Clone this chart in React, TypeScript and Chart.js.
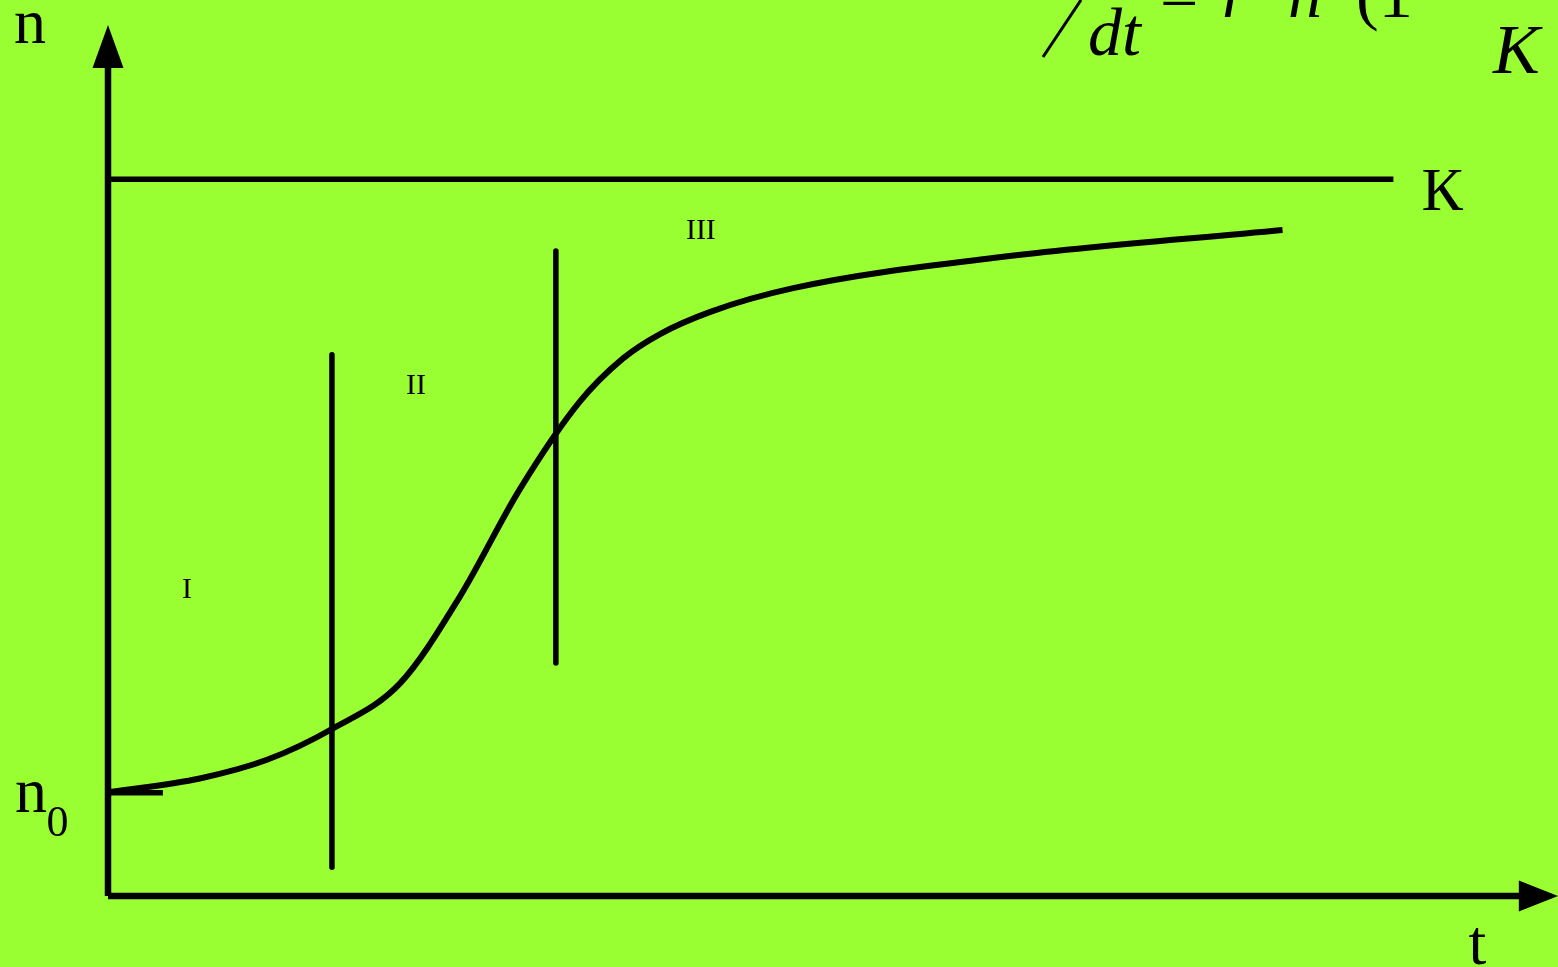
import { useEffect, useRef } from 'react';
import { Chart, registerables } from 'chart.js';

Chart.register(...registerables);

// ---- data (t = time, n = population size) ----
const curveT = [0.02, 0.82, 1.42, 2.0, 2.61, 3.14, 3.68, 4.21, 4.6, 4.93, 5.38, 6.12, 7.96, 10.49];
const curveN = [1.45, 1.64, 1.9, 2.33, 2.97, 4.17, 5.68, 6.89, 7.5, 7.84, 8.15, 8.48, 8.91, 9.29];

const K = 10;
const kLineEnd = 11.48;
const n0 = 1.44;
const n0TickEnd = 0.49;

const phaseT = [2, 4];
const phaseLow = [0.4, 3.25];
const phaseHigh = [7.55, 9.0];

const phaseLabels = ['I', 'II', 'III'];
const phaseLabelT = [0.705, 2.75, 5.295];
const phaseLabelN = [4.16, 7.0, 9.17];

const xMax = 12.95;
const yMax = 12.5;
const xArrowBase = 12.6;
const yArrowTip = 12.15;
const yArrowBase = 11.55;

const BG = '#99FF33';
const INK = '#000000';

const line = (pts: { x: number; y: number }[], width: number, cap: CanvasLineCap = 'butt') => ({
  data: pts,
  borderColor: INK,
  borderWidth: width,
  borderCapStyle: cap,
  pointRadius: 0,
  fill: false,
  clip: false as any,
  tension: 0,
});

const decor = {
  id: 'decor',
  beforeDraw(chart: any) {
    const ctx = chart.ctx;
    ctx.save();
    ctx.fillStyle = BG;
    ctx.fillRect(0, 0, chart.width, chart.height);
    ctx.restore();
  },
  afterDatasetsDraw(chart: any) {
    const ctx: CanvasRenderingContext2D = chart.ctx;
    const xs = chart.scales.x;
    const ys = chart.scales.y;
    const px = (v: number) => xs.getPixelForValue(v);
    const py = (v: number) => ys.getPixelForValue(v);
    ctx.save();
    ctx.fillStyle = INK;
    ctx.strokeStyle = INK;

    // y-axis arrow head
    const ax = px(0);
    ctx.beginPath();
    ctx.moveTo(ax, py(yArrowTip));
    ctx.lineTo(ax - 15.5, py(yArrowBase));
    ctx.lineTo(ax + 15.5, py(yArrowBase));
    ctx.closePath();
    ctx.fill();

    // x-axis arrow head
    const ay = py(0);
    ctx.beginPath();
    ctx.moveTo(px(xMax), ay);
    ctx.lineTo(px(xArrowBase), ay - 15.5);
    ctx.lineTo(px(xArrowBase), ay + 15.5);
    ctx.closePath();
    ctx.fill();

    // phase labels
    ctx.textAlign = 'center';
    ctx.textBaseline = 'alphabetic';
    ctx.font = '30px "Liberation Serif"';
    phaseLabels.forEach((s, i) => ctx.fillText(s, px(phaseLabelT[i]), py(phaseLabelN[i])));

    // axis labels
    ctx.font = '64px "Liberation Serif"';
    ctx.fillText('n', px(-0.696), py(11.9));
    ctx.fillText('t', px(12.23), py(-0.95));
    ctx.textAlign = 'left';
    ctx.fillText('n', px(-0.83), py(1.17));
    ctx.font = '44px "Liberation Serif"';
    ctx.fillText('0', px(-0.55), py(0.84));
    ctx.font = '62px "Liberation Serif"';
    ctx.fillText('К', px(11.73), py(9.57));

    // formula fragment (top right, cut off by the page edge)
    ctx.lineWidth = 3;
    ctx.beginPath();
    ctx.moveTo(1043, 57);
    ctx.lineTo(1081, 0);
    ctx.stroke();
    ctx.font = 'italic 68px "Liberation Serif"';
    ctx.fillText('dt', 1088, 55);
    ctx.font = '68px "Liberation Serif"';
    ctx.fillText('=', 1160, 19);
    ctx.font = 'italic 68px "Liberation Serif"';
    ctx.fillText('r', 1222, 17);
    ctx.fillText('n', 1288, 17);
    ctx.font = '68px "Liberation Serif"';
    ctx.fillText('·', 1256, 17);
    ctx.fillText('·', 1336, 17);
    ctx.fillText('(1', 1356, 17);
    ctx.font = 'italic 70px "Liberation Serif"';
    ctx.fillText('K', 1493, 73);

    ctx.restore();
  },
};

export default function App() {
  const ref = useRef<HTMLCanvasElement | null>(null);

  useEffect(() => {
    document.body.style.margin = '0';
    document.body.style.background = BG;
    const canvas = ref.current;
    if (!canvas) return;
    const curve = curveT.map((t, i) => ({ x: t, y: curveN[i] }));
    const chart = new Chart(canvas, {
      type: 'line',
      data: {
        datasets: [
          line([{ x: 0, y: 0 }, { x: 0, y: yArrowBase + 0.05 }], 6.5),
          line([{ x: 0, y: 0 }, { x: xArrowBase + 0.05, y: 0 }], 6.5),
          line([{ x: 0, y: K }, { x: kLineEnd, y: K }], 5.5),
          line([{ x: 0, y: n0 }, { x: n0TickEnd, y: n0 }], 5.5),
          line([{ x: phaseT[0], y: phaseLow[0] }, { x: phaseT[0], y: phaseHigh[0] }], 5.5, 'round'),
          line([{ x: phaseT[1], y: phaseLow[1] }, { x: phaseT[1], y: phaseHigh[1] }], 5.5, 'round'),
          { ...line(curve, 6, 'butt'), tension: 0.4, cubicInterpolationMode: 'monotone' },
        ] as any,
      },
      options: {
        responsive: false,
        animation: false,
        devicePixelRatio: 1,
        layout: { padding: { left: 108, right: 0, top: 0, bottom: 71 } },
        scales: {
          x: { type: 'linear', min: 0, max: xMax, display: false },
          y: { type: 'linear', min: 0, max: yMax, display: false },
        },
        plugins: { legend: { display: false }, tooltip: { enabled: false }, title: { display: false } },
        events: [],
      },
      plugins: [decor],
    });
    return () => chart.destroy();
  }, []);

  return (
    <div style={{ position: 'fixed', left: 0, top: 0, width: 1558, height: 967, background: BG }}>
      <canvas ref={ref} width={1558} height={967} style={{ display: 'block', width: 1558, height: 967 }} />
    </div>
  );
}
